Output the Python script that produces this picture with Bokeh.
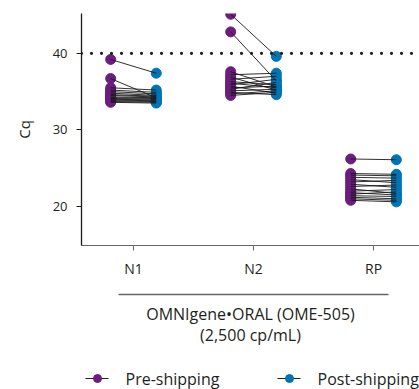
from bokeh.plotting import figure
from bokeh.models import Range1d, FixedTicker, Span, LinearAxis
from bokeh.layouts import column
from bokeh.embed import file_html
from bokeh.resources import INLINE
from bokeh.core.properties import value

# ---- data ----
categories = ["N1", "N2", "RP"]
n1_pre = [39.2, 36.7, 35.5, 35.2, 35.0, 34.8, 34.6, 34.5, 34.3, 34.2, 34.1, 34.0, 33.9, 33.8, 33.7, 33.6]
n1_post = [37.4, 34.2, 35.2, 34.9, 34.7, 34.5, 34.4, 34.3, 34.2, 34.1, 34.0, 33.9, 33.8, 33.7, 33.6, 33.5]
n2_pre = [45.1, 42.8, 37.6, 37.2, 36.9, 36.6, 36.3, 36.1, 35.9, 35.7, 35.5, 35.3, 35.1, 34.9, 34.7, 34.5]
n2_post = [39.6, 36.4, 35.6, 37.4, 35.2, 37.0, 35.9, 35.5, 36.6, 34.8, 35.7, 36.2, 35.3, 34.6, 35.1, 34.9]
rp_pre = [26.2, 24.3, 24.1, 23.8, 23.5, 23.2, 22.9, 22.6, 22.3, 22.0, 21.8, 21.6, 21.4, 21.2, 21.0, 20.8]
rp_post = [26.1, 24.2, 24.0, 23.7, 23.1, 23.4, 22.5, 22.8, 21.7, 22.2, 21.5, 21.9, 21.3, 21.0, 20.8, 20.6]
threshold = 40
series_names = ["Pre-shipping", "Post-shipping"]
y_ticks = [20, 30, 40]
axis_title = "Cq"
group_title = ["OMNIgene\u2022ORAL (OME-505)", "(2,500 cp/mL)"]

PURPLE = "#6c1d7f"
BLUE = "#0074b4"
INK = "#231f20"
FONT = "Open Sans"
OFF = 0.19

pre_all = [n1_pre, n2_pre, rp_pre]
post_all = [n1_post, n2_post, rp_post]

p = figure(width=419, height=352, output_backend="svg", toolbar_location=None,
           x_range=Range1d(-0.433, 2.383), y_range=Range1d(14.9, 45.2),
           min_border_left=81, min_border_right=0, min_border_top=13, min_border_bottom=107)
p.outline_line_color = None
p.xgrid.visible = False
p.ygrid.visible = False

p.add_layout(Span(location=threshold, dimension="width", line_color=INK,
                  line_width=3.2, line_dash="0 10", line_cap="round"))

for i, (pre, post) in enumerate(zip(pre_all, post_all)):
    xp = [i - OFF] * len(pre)
    xq = [i + OFF] * len(post)
    p.scatter(xp, pre, size=10, color=PURPLE)
    p.scatter(xq, post, size=10, color=BLUE)
    xs = [[i - OFF, i + OFF] for _ in pre]
    ys = [[a, b] for a, b in zip(pre, post)]
    p.multi_line(xs, ys, line_color="#1a1a1a", line_width=1, line_alpha=0.9)

# y axis
p.yaxis.ticker = FixedTicker(ticks=y_ticks)
p.yaxis.minor_tick_line_color = None
p.yaxis.major_tick_out = 5
p.yaxis.major_tick_in = 0
p.yaxis.axis_line_color = "#1a1a1a"
p.yaxis.axis_line_width = 1.3
p.yaxis.major_tick_line_color = "#1a1a1a"
p.yaxis.major_label_text_font = FONT
p.yaxis.major_label_text_font_size = "13px"
p.yaxis.major_label_text_color = INK
p.yaxis.major_label_standoff = 9
p.yaxis.axis_label = axis_title
p.yaxis.axis_label_text_font = FONT
p.yaxis.axis_label_text_font_style = "normal"
p.yaxis.axis_label_text_font_size = "15px"
p.yaxis.axis_label_text_color = INK
p.yaxis.axis_label_standoff = 16

# category x axis
p.xaxis.ticker = FixedTicker(ticks=[0, 1, 2])
p.xaxis.major_label_overrides = {i: c for i, c in enumerate(categories)}
p.xaxis.minor_tick_line_color = None
p.xaxis.major_tick_out = 5
p.xaxis.major_tick_in = 0
p.xaxis.axis_line_color = "#666666"
p.xaxis.major_tick_line_color = "#666666"
p.xaxis.major_label_text_font = FONT
p.xaxis.major_label_text_font_size = "14px"
p.xaxis.major_label_text_color = INK
p.xaxis.major_label_standoff = 8
p.xaxis.axis_label = " "
p.xaxis.axis_label_text_font_size = "8px"
p.xaxis.axis_label_standoff = 2


def text_axis(label, standoff, size, line_color=None, bounds="auto"):
    ax = LinearAxis(ticker=FixedTicker(ticks=[]), bounds=bounds,
                    axis_line_color=line_color, axis_line_width=1.3,
                    major_tick_line_color=None, minor_tick_line_color=None,
                    axis_label=label, axis_label_text_font=FONT,
                    axis_label_text_font_style="normal", axis_label_text_font_size=size,
                    axis_label_text_color=INK, axis_label_standoff=standoff)
    p.add_layout(ax, "below")
    return ax


text_axis(group_title[0], 8, "16px", line_color="#666666", bounds=(-0.125, 2.125))
text_axis(group_title[1], -4, "16px", bounds=(-0.125, 2.125))

# ---- legend strip (pixel coordinates of the strip) ----
q = figure(width=419, height=37, output_backend="svg", toolbar_location=None,
           x_range=Range1d(81, 419), y_range=Range1d(389, 352),
           min_border_left=81, min_border_right=0, min_border_top=0, min_border_bottom=0,
           x_axis_type=None, y_axis_type=None)
q.outline_line_color = None
q.xgrid.visible = False
q.ygrid.visible = False

leg_x = [85, 277]
leg_colors = [PURPLE, BLUE]
LEG_Y = 378
for lx, col, name in zip(leg_x, leg_colors, series_names):
    q.segment(x0=[lx], y0=[LEG_Y], x1=[lx + 23], y1=[LEG_Y], line_color=INK, line_width=1.2)
    q.scatter([lx + 12], [LEG_Y], size=8, color=col)
    q.text(x=[lx + 40], y=[LEG_Y], text=[name], text_align="left", text_baseline="middle",
           text_font=value(FONT), text_font_size="16px", text_color=INK)

layout = column(p, q, spacing=0)
open("out.html", "w").write(file_html(layout, INLINE))
